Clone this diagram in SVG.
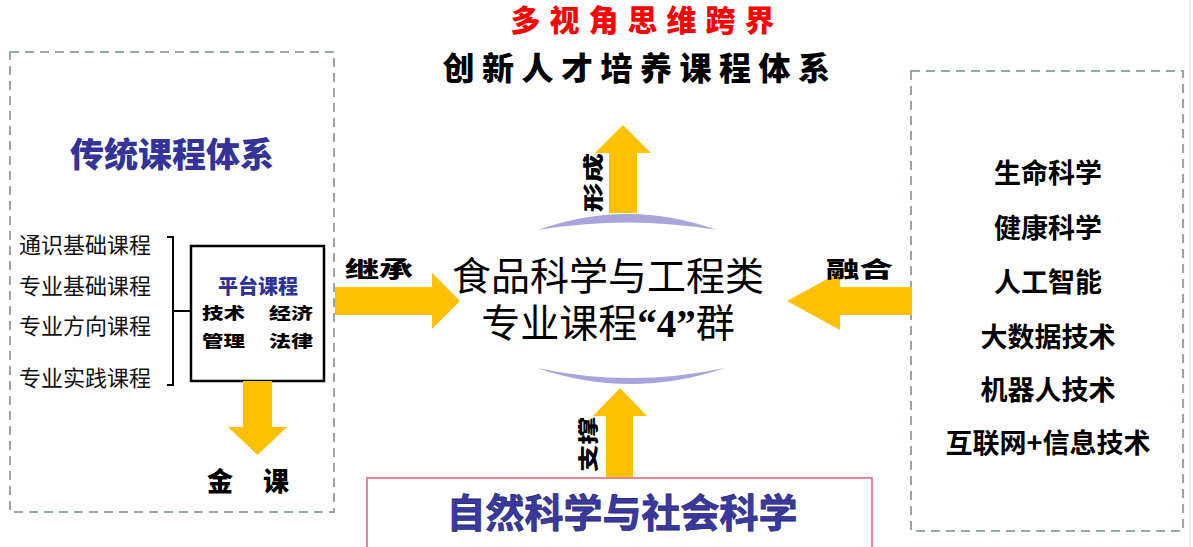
<svg xmlns="http://www.w3.org/2000/svg" width="1193" height="547" viewBox="0 0 1193 547">
<style>
.dash{fill:none;stroke:#94AAAA;stroke-width:2;stroke-dasharray:9,6}
.arr{fill:#FFC000}
.cjk{font-family:"Noto Sans CJK SC","Liberation Sans",sans-serif}
.list{font-family:"Noto Sans CJK SC",sans-serif;font-size:22px;fill:#111}
.right{font-family:"Noto Sans CJK SC",sans-serif;font-size:27px;font-weight:700;fill:#000}
.lbl{font-family:"Noto Sans CJK SC",sans-serif;font-weight:900;fill:#000}
.arc{fill:#A7A5DC}
</style>
<rect width="1193" height="547" fill="#fff"/>
<line x1="1190" y1="0" x2="1190" y2="547" stroke="#e0e0e0" stroke-width="1"/>

<g id="title">
<text x="647" y="31" text-anchor="middle" class="cjk" font-size="30" font-weight="900" fill="#FF0000" letter-spacing="9">多视角思维跨界</text>
<text x="640" y="80" text-anchor="middle" class="cjk" font-size="32" font-weight="900" fill="#000" letter-spacing="7.5">创新人才培养课程体系</text>
</g>

<g id="traditional">
<rect x="10" y="52" width="324" height="460" class="dash"/>
<text x="172" y="167" text-anchor="middle" class="cjk" font-size="34" font-weight="900" fill="#333399">传统课程体系</text>
<text x="19" y="253" class="list">通识基础课程</text>
<text x="19" y="294" class="list">专业基础课程</text>
<text x="19" y="334" class="list">专业方向课程</text>
<text x="19" y="386" class="list">专业实践课程</text>
<path d="M167,237 H173 V385 H167 M173,311 H191" fill="none" stroke="#000" stroke-width="2"/>
</g>

<g id="platform">
<rect x="191" y="246" width="133" height="135" fill="#fff" stroke="#000" stroke-width="2.5"/>
<text x="258" y="294" text-anchor="middle" class="cjk" font-size="20" font-weight="900" fill="#2E3399">平台课程</text>
<text x="202" y="319" class="cjk" font-size="16" font-weight="900" fill="#000" textLength="43" lengthAdjust="spacingAndGlyphs">技术</text>
<text x="269" y="319" class="cjk" font-size="16" font-weight="900" fill="#000" textLength="44" lengthAdjust="spacingAndGlyphs">经济</text>
<text x="202" y="347" class="cjk" font-size="16" font-weight="900" fill="#000" textLength="43" lengthAdjust="spacingAndGlyphs">管理</text>
<text x="269" y="347" class="cjk" font-size="16" font-weight="900" fill="#000" textLength="44" lengthAdjust="spacingAndGlyphs">法律</text>
</g>

<g id="golden">
<text x="254" y="491" text-anchor="middle" class="cjk" font-size="26" font-weight="900" fill="#000" letter-spacing="12">金 课</text>
</g>

<g id="center">
<text x="608" y="290" text-anchor="middle" class="cjk" font-size="39" fill="#000">食品科学与工程类</text>
<text x="608" y="337" text-anchor="middle" class="cjk" font-size="39" fill="#000">专业课程<tspan font-family="'Liberation Serif',serif" font-weight="700">“4”</tspan>群</text>
<path class="arc" d="M538,230 Q627,198 717,230 Q627,215 538,230 Z"/>
<path class="arc" d="M537,368 Q630,400 725,368 Q630,388 537,368 Z"/>
</g>

<g id="emerging">
<rect x="911" y="71" width="272" height="460" class="dash"/>
<text x="1048" y="183" text-anchor="middle" class="right">生命科学</text>
<text x="1048" y="238" text-anchor="middle" class="right">健康科学</text>
<text x="1048" y="292" text-anchor="middle" class="right">人工智能</text>
<text x="1048" y="347" text-anchor="middle" class="right">大数据技术</text>
<text x="1048" y="400" text-anchor="middle" class="right">机器人技术</text>
<text x="1048" y="453" text-anchor="middle" class="right">互联网+信息技术</text>
</g>

<g id="science">
<rect x="367" y="478" width="505" height="80" fill="#fff" stroke="#E8849E" stroke-width="2"/>
<text x="622" y="527" text-anchor="middle" class="cjk" font-size="39" font-weight="700" fill="#3A3A9E" stroke="#2A2A80" stroke-width="0.8">自然科学与社会科学</text>
</g>

<g id="connectors">
<polygon class="arr" points="243,381 272,381 272,427 287,427 257.5,455 228,427 243,427"/>
<polygon class="arr" points="609,213 637,213 637,153 651,153 623,125 595,153 609,153"/>
<polygon class="arr" points="335,287 432,287 432,273 460,301 432,329 432,315 335,315"/>
<polygon class="arr" points="912,287 840,287 840,272 787,301 840,330 840,315 912,315"/>
<polygon class="arr" points="606,477 633,477 633,416 647,416 620,388 593,416 606,416"/>
<text x="345" y="277" class="lbl" font-size="22" textLength="68" lengthAdjust="spacingAndGlyphs">继承</text>
<text x="826" y="277" class="lbl" font-size="22" textLength="67" lengthAdjust="spacingAndGlyphs">融合</text>
<text transform="translate(601,212) rotate(-90)" class="lbl" font-size="20" textLength="59" lengthAdjust="spacingAndGlyphs">形成</text>
<text transform="translate(596,472) rotate(-90)" class="lbl" font-size="20" textLength="55" lengthAdjust="spacingAndGlyphs">支撑</text>
</g>
</svg>
